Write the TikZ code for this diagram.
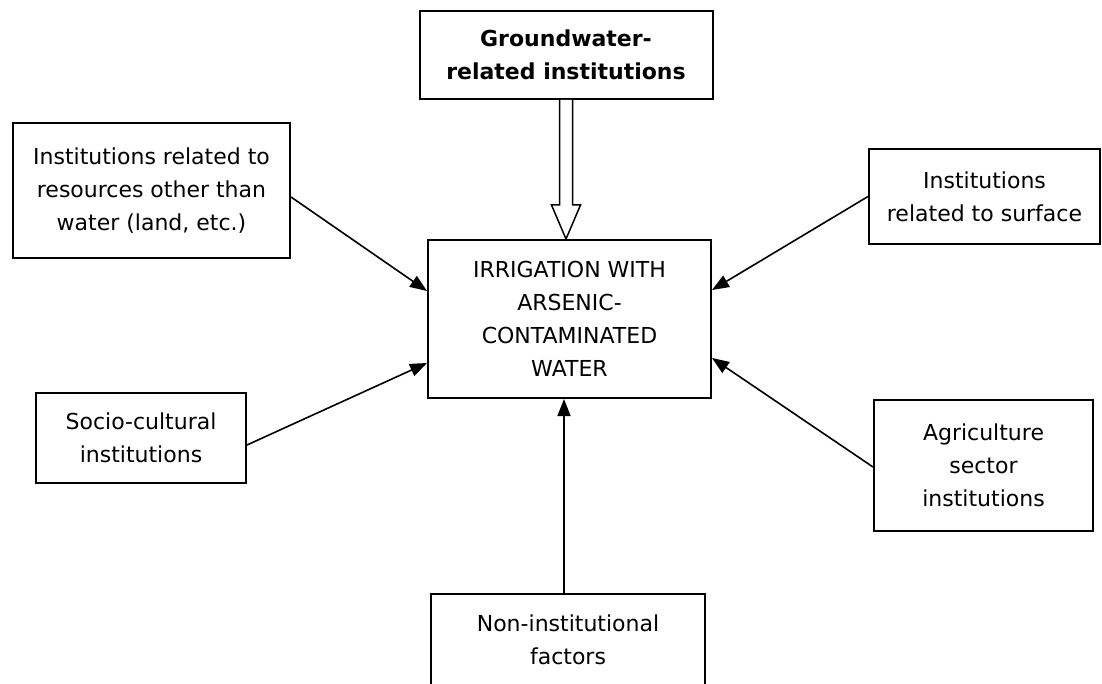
\documentclass[tikz,border=0pt]{standalone}
\usepackage{fontspec}
\setmainfont{DejaVu Sans}
\usepackage{xcolor}
\usetikzlibrary{arrows.meta,positioning,calc}
\definecolor{ink}{HTML}{000000}
\tikzset{
  every node/.style={font=\fontsize{22}{33}\selectfont, text=ink},
  box/.style={draw=ink, line width=2pt, fill=white, align=center, inner sep=0pt},
  boldbox/.style={box, font=\fontsize{22}{33}\selectfont\bfseries},
  arrow/.style={-{Triangle[length=17pt,width=13pt]}, line width=1.6pt, draw=ink},
  hollow/.style={line width=1.5pt, draw=ink, fill=white, line join=miter},
}

\begin{document}
\begin{tikzpicture}[x=1pt,y=-1pt]
\useasboundingbox (0,0) rectangle (1102,684);
\node[boldbox, minimum width=293pt, minimum height=88pt] (gw) at (566,55) {Groundwater-\\related institutions};
\node[box, minimum width=277pt, minimum height=135pt] (other) at (151.5,190.5) {Institutions related to\\resources other than\\water (land, etc.)};
\node[box, minimum width=231pt, minimum height=95pt] (surf) at (984.5,196.5) {Institutions\\related to surface};
\node[box, minimum width=283pt, minimum height=158pt] (irr) at (569.5,319) {IRRIGATION WITH\\ARSENIC-\\CONTAMINATED\\WATER};
\node[box, minimum width=210pt, minimum height=90pt] (socio) at (141,438) {Socio-cultural\\institutions};
\node[box, minimum width=219pt, minimum height=131pt] (agri) at (983.5,465.5) {Agriculture\\sector\\institutions};
\node[box, minimum width=274pt, minimum height=92pt] (nonins) at (568,640) {Non-institutional\\factors};
% hollow arrow from the groundwater box
\coordinate (gtop) at (gw.south);
\coordinate (gtip) at (gw.south |- irr.north);
\draw[hollow] ($(gtop)+(-6.5,0)$) -- ($(gtip)+(-6.5,-34)$) -- ($(gtip)+(-14.5,-34)$) -- (gtip)
  -- ($(gtip)+(14.5,-34)$) -- ($(gtip)+(6.5,-34)$) -- ($(gtop)+(6.5,0)$);
\draw[arrow] ([yshift=-6.5pt]other.east) -- ([yshift=28pt]irr.west);
\draw[arrow] (surf.west) -- ([yshift=29pt]irr.east);
\draw[arrow] ([yshift=-7pt]socio.east) -- ([yshift=-44pt]irr.west);
\draw[arrow] ([yshift=-1.5pt]agri.west) -- ([yshift=-39pt]irr.east);
\draw[arrow] ([xshift=-4pt]nonins.north) -- ([xshift=-4pt]nonins.north |- irr.south);
\end{tikzpicture}
\end{document}
